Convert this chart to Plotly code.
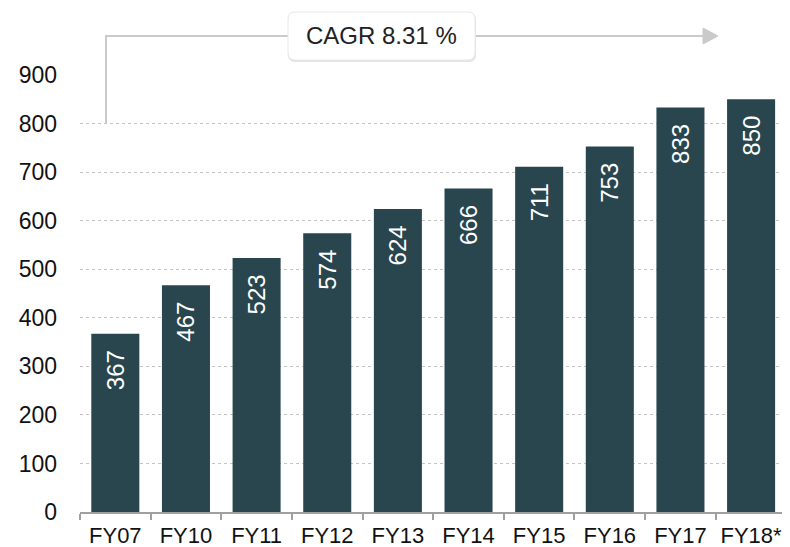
import plotly.graph_objects as go

# data
years = ["FY07", "FY10", "FY11", "FY12", "FY13", "FY14", "FY15", "FY16", "FY17", "FY18*"]
values = [367, 467, 523, 574, 624, 666, 711, 753, 833, 850]
cagr_label = "CAGR 8.31 %"
y_ticks = [0, 100, 200, 300, 400, 500, 600, 700, 800, 900]

bar_color = "#29464f"
line_grey = "#cacaca"
font = "Liberation Sans, Arial, sans-serif"

# page body has an 8px margin, so the figure is drawn a bit smaller
W, H = 777, 539
ML, MR, MT, MB = 72, 0, 67, 35
PW, PH = W - ML - MR, H - MT - MB


def px(x):
    # window pixel -> paper x
    return (x - 8 - ML) / PW


def py(y):
    # window pixel -> paper y
    return (H - MB - (y - 8)) / PH


def rounded_rect(x0, y0, x1, y1, r):
    rx, ry = r / PW, r / PH
    a, b, c, d = px(x0), py(y0), px(x1), py(y1)
    return (f"M {a + rx},{b} L {c - rx},{b} Q {c},{b} {c},{b - ry} "
            f"L {c},{d + ry} Q {c},{d} {c - rx},{d} L {a + rx},{d} "
            f"Q {a},{d} {a},{d + ry} L {a},{b - ry} Q {a},{b} {a + rx},{b} Z")


fig = go.Figure()
fig.add_trace(go.Bar(
    x=years, y=values,
    marker=dict(color=bar_color, line=dict(width=0)),
    text=[f"{v}\u00a0\u00a0" for v in values],
    textposition="inside", insidetextanchor="end", textangle=-90,
    textfont=dict(color="white", size=24, family=font),
    hoverinfo="x+y",
))

# bracket line + arrow head for the CAGR callout
fig.add_shape(type="path", xref="paper", yref="paper",
              path=f"M {px(106)},{py(124)} L {px(106)},{py(36)} L {px(705)},{py(36)}",
              line=dict(color=line_grey, width=2))
fig.add_shape(type="path", xref="paper", yref="paper",
              path=f"M {px(703)},{py(28)} L {px(718)},{py(36)} L {px(703)},{py(44)} Z",
              fillcolor=line_grey, line=dict(color=line_grey, width=1))
# soft shadow + rounded box
fig.add_shape(type="path", xref="paper", yref="paper",
              path=rounded_rect(288, 13, 476, 62, 7),
              fillcolor="#e4e4e4", line=dict(width=0))
fig.add_shape(type="path", xref="paper", yref="paper",
              path=rounded_rect(288, 12, 475, 60, 7),
              fillcolor="white", line=dict(color="#e8e8e8", width=1))
fig.add_annotation(xref="paper", yref="paper", x=px(381.5), y=py(36),
                   xanchor="center", yanchor="middle",
                   text=cagr_label, showarrow=False,
                   font=dict(size=24, color="#222222", family=font))

fig.update_layout(
    width=W, height=H,
    margin=dict(l=ML, r=MR, t=MT, b=MB),
    paper_bgcolor="white", plot_bgcolor="white",
    bargap=0.32, showlegend=False,
    font=dict(family=font, size=23, color="#111111"),
)
fig.update_xaxes(
    type="category", range=[-0.5, 9.48],
    showline=True, linecolor="#a0a0a0", linewidth=2,
    ticks="outside", tickson="boundaries", ticklen=6, tickcolor="#a0a0a0", tickwidth=2,
    showgrid=False, tickfont=dict(size=22), automargin=False,
    tickangle=0, ticklabelstandoff=3,
)
fig.update_yaxes(
    range=[0, 900], tickvals=y_ticks,
    showgrid=True, gridcolor="#c4c4c4", griddash="dot", gridwidth=1,
    zeroline=False, showline=False, ticks="",
    ticklabelstandoff=22, tickfont=dict(size=23), automargin=False,
)

fig.write_html("out.html")
